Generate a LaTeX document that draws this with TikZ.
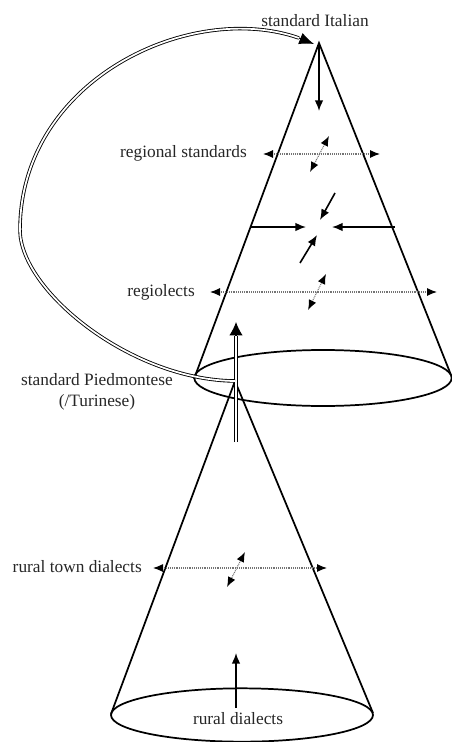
\documentclass[tikz,border=0pt]{standalone}
\usepackage{fontspec}
\setmainfont{Liberation Serif}
\usetikzlibrary{arrows.meta}
\begin{document}
\begin{tikzpicture}[x=0.75pt,y=-0.75pt,
  cone/.style={line width=1.3pt},
  tip/.style={line width=1.2pt,-{Latex[length=8pt,width=6.5pt]}},
  dots/.style={dash pattern=on 0.7pt off 0.7pt, line width=0.8pt, draw=black!55,
    {Latex[length=7.5pt,width=6pt,color=black]}-{Latex[length=7.5pt,width=6pt,color=black]}},
  dbl/.style={double, line width=0.65pt, double distance=1.3pt},
  lbl/.style={font=\fontsize{13}{15.5}\selectfont, inner sep=0pt, text=black!85}
]
\useasboundingbox (0,0) rectangle (452,742);

% upper cone
\coordinate (A) at (319,43);
\coordinate (B) at (235,381);
\coordinate (TL) at (194,379);
\coordinate (TR) at (451,375);
\draw[cone] (TL) -- (A) -- (TR);
\draw[cone] (323,378) ellipse [x radius=96.5pt, y radius=21pt];

% lower cone
\coordinate (LL) at (111,714);
\coordinate (LR) at (373,713);
\draw[cone] (LL) -- (B) -- (LR);
\draw[cone] (242,715) ellipse [x radius=98.25pt, y radius=20pt];

% labels
\node[lbl] (si) at (315,21) {standard Italian};
\node[lbl, anchor=east] (rs) at (247,153) {regional standards};
\node[lbl, anchor=east] (rl) at (195,292) {regiolects};
\node[lbl, align=center] (sp) at (97,392) {standard Piedmontese\\(/Turinese)};
\node[lbl, anchor=east] (rt) at (142,567) {rural town dialects};
\node[lbl] (rd) at (238,719) {rural dialects};

% top down arrow
\coordinate (a1) at (319,111);
\draw[tip] (A) -- (a1);

% regional standards
\coordinate (r1) at (263,154); \coordinate (r2) at (380,154);
\draw[dots] (r1) -- (r2);
\coordinate (r3) at (329,136); \coordinate (r4) at (310,172);
\draw[dots] (r3) -- (r4);

% converging arrows
\coordinate (h1) at (250,227); \coordinate (h2) at (306,227);
\coordinate (h3) at (395,227); \coordinate (h4) at (332,227);
\draw[tip] (h1) -- (h2);
\draw[tip] (h3) -- (h4);
\coordinate (d1) at (335,193); \coordinate (d2) at (320,220);
\coordinate (d3) at (300,263); \coordinate (d4) at (317,235);
\draw[tip] (d1) -- (d2);
\draw[tip] (d3) -- (d4);

% regiolects
\coordinate (g1) at (210,292); \coordinate (g2) at (437,292);
\draw[dots] (g1) -- (g2);
\coordinate (g3) at (326,274); \coordinate (g4) at (308,310);
\draw[dots] (g3) -- (g4);

% rural town dialects
\coordinate (t1) at (153,568); \coordinate (t2) at (327,568);
\draw[dots] (t1) -- (t2);
\coordinate (t3) at (245,552); \coordinate (t4) at (227,587);
\draw[dots] (t3) -- (t4);

% rural up arrow
\coordinate (u1) at (236,708); \coordinate (u2) at (236,653);
\draw[tip] (u1) -- (u2);

% double up arrow
\coordinate (v1) at (236,442); \coordinate (v2) at (236,322);
\coordinate (v3) at (236,336);
\draw[dbl] (v1) -- (v3);
\draw[line width=0.8pt,-{Latex[length=10pt,width=10pt]}] (v3) -- (v2);

% big curved double arrow
\coordinate (c1) at (20,230);
\coordinate (ce) at (299,38);
\coordinate (ct) at (314,44);
\draw[dbl] (B) .. controls (130,380) and (20,290) .. (c1)
  .. controls (20,80) and (190,0) .. (ce);
\draw[line width=0.8pt,-{Latex[length=11pt,width=9pt]}] (ce) -- (ct);
\end{tikzpicture}
\end{document}
